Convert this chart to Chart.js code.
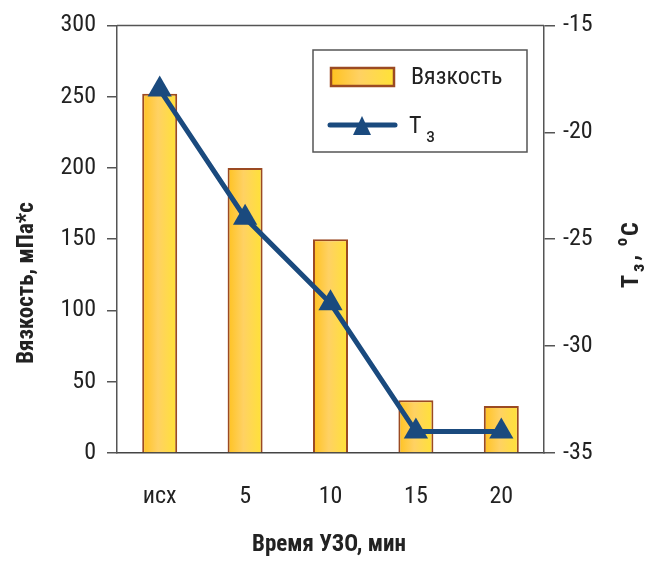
<!DOCTYPE html>
<html><head><meta charset="utf-8">
<script src="https://cdn.jsdelivr.net/npm/chart.js@4"></script>
<style>html,body{margin:0;padding:0;background:#fff}#wrap{width:649px;height:562px}</style>
</head><body><div id="wrap"><canvas id="c" width="649" height="562"></canvas></div>
<script>
const categories = ['исх', '5', '10', '15', '20'];
const viscosity = [252, 200, 150, 37, 33];
const pourPoint = [-18, -24, -28, -34, -34];
const leftTicks = [0, 50, 100, 150, 200, 250, 300];
const rightTicks = [-35, -30, -25, -20, -15];
const FONT = "'Liberation Sans Narrow','Roboto Condensed','Arial Narrow',Roboto,sans-serif";
const LINE = '#1a4a7e';
const BORDER = '#9b4a22';
const BAR_PCT = 0.41;

function barGrad(ctx, x0, x1) {
  const g = ctx.createLinearGradient(x0, 0, x1, 0);
  g.addColorStop(0, '#ffc21f');
  g.addColorStop(0.45, '#ffd163');
  g.addColorStop(1, '#ffe236');
  return g;
}

function barFill(context) {
  const chart = context.chart;
  const xs = chart.scales && chart.scales.x;
  if (!chart.chartArea || !xs || context.dataIndex === undefined) return '#ffd040';
  const cx = xs.getPixelForValue(context.dataIndex);
  const w = (chart.chartArea.width / categories.length) * BAR_PCT;
  if (!isFinite(cx) || !isFinite(w)) return '#ffd040';
  return barGrad(chart.ctx, cx - w / 2, cx + w / 2);
}

const extras = {
  id: 'extras',
  afterDraw(chart) {
    const ctx = chart.ctx;
    const a = chart.chartArea;
    ctx.save();
    // top border
    ctx.strokeStyle = '#555'; ctx.lineWidth = 1.5;
    ctx.beginPath(); ctx.moveTo(a.left, a.top); ctx.lineTo(a.right, a.top); ctx.stroke();
    // legend box
    ctx.fillStyle = '#fff';
    ctx.fillRect(313, 50, 214, 102);
    ctx.strokeStyle = '#555'; ctx.lineWidth = 1.5;
    ctx.strokeRect(313, 50, 214, 102);
    ctx.fillStyle = barGrad(ctx, 331, 394);
    ctx.fillRect(331, 68, 63, 18);
    ctx.strokeStyle = BORDER; ctx.lineWidth = 2.5;
    ctx.strokeRect(331, 68, 63, 18);
    ctx.fillStyle = '#222';
    ctx.font = "24px " + FONT;
    ctx.textBaseline = 'middle'; ctx.textAlign = 'left';
    ctx.fillText('Вязкость', 411, 78);
    ctx.strokeStyle = LINE; ctx.lineWidth = 5; ctx.lineCap = 'round';
    ctx.beginPath(); ctx.moveTo(330, 125); ctx.lineTo(395, 125); ctx.stroke();
    ctx.fillStyle = LINE;
    ctx.beginPath(); ctx.moveTo(362, 116); ctx.lineTo(371, 135); ctx.lineTo(353, 135); ctx.closePath(); ctx.fill();
    ctx.fillStyle = '#222';
    ctx.font = "24px " + FONT;
    ctx.fillText('Т', 409, 127);
    ctx.font = "20px " + FONT;
    ctx.fillText('з', 426, 137);
    // axis titles
    ctx.font = "bold 23px " + FONT;
    ctx.textAlign = 'center';
    ctx.fillText('Время УЗО, мин', 329, 545);
    ctx.save();
    ctx.translate(27, 283); ctx.rotate(-Math.PI / 2);
    ctx.fillText('Вязкость, мПа*с', 0, 0);
    ctx.restore();
    ctx.save();
    ctx.translate(632, 288); ctx.rotate(-Math.PI / 2);
    ctx.textAlign = 'left';
    let x = 0;
    ctx.font = "bold 24px " + FONT;
    ctx.fillText('Т', x, 0); x += ctx.measureText('Т').width + 3;
    ctx.font = "bold 18px " + FONT;
    ctx.fillText('з', x, 7); x += ctx.measureText('з').width + 3;
    ctx.font = "bold 24px " + FONT;
    ctx.fillText(',', x, 0); x += ctx.measureText(',').width + 9;
    ctx.font = "bold 16px " + FONT;
    ctx.fillText('о', x, -9); x += ctx.measureText('о').width + 2;
    ctx.font = "bold 24px " + FONT;
    ctx.fillText('С', x, 0);
    ctx.restore();
    ctx.restore();
  }
};

new Chart(document.getElementById('c'), {
  data: {
    labels: categories,
    datasets: [
      { type: 'line', label: 'Т з', data: pourPoint, yAxisID: 'y1', borderColor: LINE, backgroundColor: LINE,
        borderWidth: 5, pointStyle: 'triangle', pointRadius: 14, pointHoverRadius: 14, pointBorderWidth: 0, tension: 0, order: 0 },
      { type: 'bar', label: 'Вязкость', data: viscosity, yAxisID: 'y', borderColor: BORDER, borderWidth: 2,
        backgroundColor: barFill, barPercentage: BAR_PCT, categoryPercentage: 1, order: 1 }
    ]
  },
  options: {
    responsive: false, animation: false, devicePixelRatio: 1,
    layout: { padding: { top: 23, left: 0, right: 0, bottom: 0 } },
    plugins: { legend: { display: false }, tooltip: { enabled: false } },
    scales: {
      x: {
        grid: { display: true, drawOnChartArea: false, drawTicks: false },
        border: { color: '#444', width: 1.5 },
        ticks: { color: '#222', font: { family: FONT, size: 24 }, padding: 30 },
        afterFit(s) { s.height = 109; }
      },
      y: {
        position: 'left', min: 0, max: 300,
        afterBuildTicks(s) { s.ticks = leftTicks.map(v => ({ value: v })); },
        grid: { drawOnChartArea: false, tickLength: 10, color: '#555', lineWidth: 1.5 },
        border: { color: '#555', width: 1.5 },
        ticks: { color: '#222', font: { family: FONT, size: 24 }, padding: 11 },
        afterFit(s) { s.width = 117; }
      },
      y1: {
        position: 'right', min: -35, max: -15,
        afterBuildTicks(s) { s.ticks = rightTicks.map(v => ({ value: v })); },
        grid: { drawOnChartArea: false, tickLength: 11, color: '#555', lineWidth: 1.5 },
        border: { color: '#555', width: 1.5 },
        ticks: { color: '#222', font: { family: FONT, size: 24 }, padding: 8 },
        afterFit(s) { s.width = 105; }
      }
    }
  },
  plugins: [extras]
});
</script>
</body></html>
